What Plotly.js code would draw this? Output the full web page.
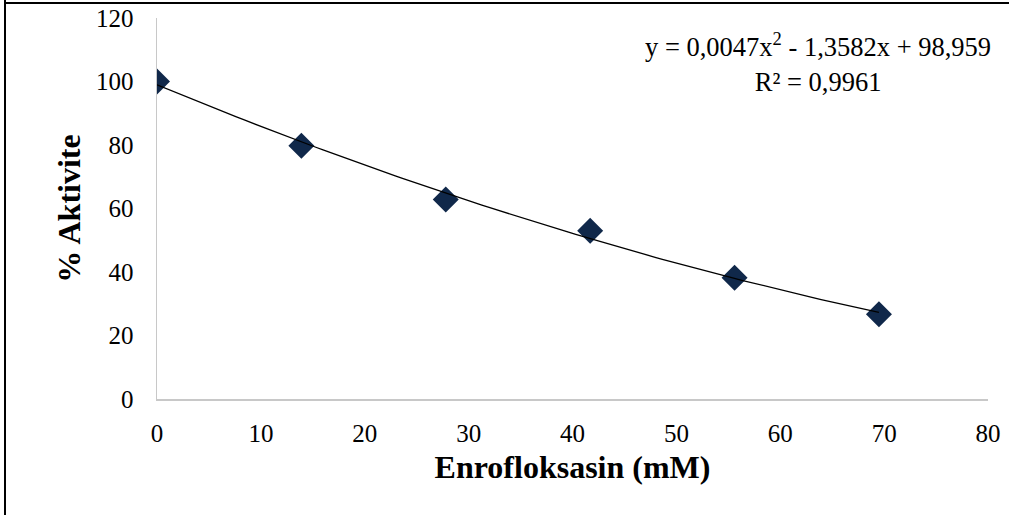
<!DOCTYPE html>
<html>
<head>
<meta charset="utf-8">
<script src="https://cdn.plot.ly/plotly-3.0.1.min.js"></script>
<style>html,body{margin:0;padding:0;background:#fff;}#chart{width:1009px;height:515px;}</style>
</head>
<body>
<div id="chart"></div>
<script>
// Data
const concentration = [0, 13.9, 27.8, 41.7, 55.6, 69.5];
const activity = [100, 79.8, 62.8, 53.0, 38.2, 26.7];
// Polynomial trendline coefficients shown in the chart: y = a x^2 + b x + c
const trendCoef = [0.0047, -1.3582, 98.959];
const equationText = "y = 0,0047x<sup>2</sup> - 1,3582x + 98,959<br>R² = 0,9961";
const xTicks = [0, 10, 20, 30, 40, 50, 60, 70, 80];
const yTicks = [0, 20, 40, 60, 80, 100, 120];

const trendX = [];
const trendY = [];
const xMin = concentration[0], xMax = concentration[concentration.length - 1];
for (let i = 0; i <= 100; i++) {
  const x = xMin + (xMax - xMin) * i / 100;
  trendX.push(x);
  trendY.push(trendCoef[0] * x * x + trendCoef[1] * x + trendCoef[2]);
}

const font = "Liberation Serif, Times New Roman, serif";

const traces = [
  {
    x: concentration, y: activity, type: 'scatter', mode: 'markers',
    marker: {symbol: 'diamond', size: 20, color: '#10284a', line: {width: 0}},
    hoverinfo: 'x+y'
  },
  {
    x: trendX, y: trendY, type: 'scatter', mode: 'lines',
    line: {color: '#000000', width: 1.3}, hoverinfo: 'skip'
  }
];

const layout = {
  width: 1009, height: 515,
  margin: {l: 157, r: 21, t: 18, b: 116},
  paper_bgcolor: '#ffffff', plot_bgcolor: '#ffffff',
  showlegend: false,
  font: {family: font, color: '#000000', size: 25},
  xaxis: {
    range: [0, 80], tickvals: xTicks, ticktext: xTicks.map(String),
    showgrid: false, zeroline: false,
    showline: true, linecolor: '#c8c8c8', linewidth: 1.5,
    ticks: 'outside', ticklen: 11, tickcolor: 'rgba(0,0,0,0)',
    tickfont: {family: font, size: 25, color: '#000'},
    title: {text: '<b>Enrofloksasin (mM)</b>', font: {family: font, size: 32, color: '#000'}, standoff: 10},
    automargin: false, fixedrange: true
  },
  yaxis: {
    range: [0, 120], tickvals: yTicks, ticktext: yTicks.map(String),
    showgrid: false, zeroline: false,
    showline: true, linecolor: '#c8c8c8', linewidth: 1.5,
    ticks: 'outside', ticklen: 17, tickcolor: 'rgba(0,0,0,0)',
    tickfont: {family: font, size: 25, color: '#000'},
    title: {text: '<b>% Aktivite</b>', font: {family: font, size: 32, color: '#000'}, standoff: 6},
    automargin: false, fixedrange: true
  },
  annotations: [
    {
      xref: 'paper', yref: 'paper', x: 0.795, y: 0.882,
      xanchor: 'center', yanchor: 'middle', align: 'center',
      showarrow: false, text: equationText,
      font: {family: font, size: 26.5, color: '#000'}
    }
  ],
  shapes: [
    {type: 'line', xref: 'paper', yref: 'paper', x0: (5 - 157) / 831, x1: (5 - 157) / 831, y0: 1.05, y1: -0.35,
     line: {color: '#000', width: 2}},
    {type: 'line', xref: 'paper', yref: 'paper', x0: (5 - 157) / 831, x1: 1.05, y0: (399 - 3) / 381, y1: (399 - 3) / 381,
     line: {color: '#000', width: 2}}
  ]
};

Plotly.newPlot('chart', traces, layout, {staticPlot: true, displayModeBar: false});
</script>
</body>
</html>
